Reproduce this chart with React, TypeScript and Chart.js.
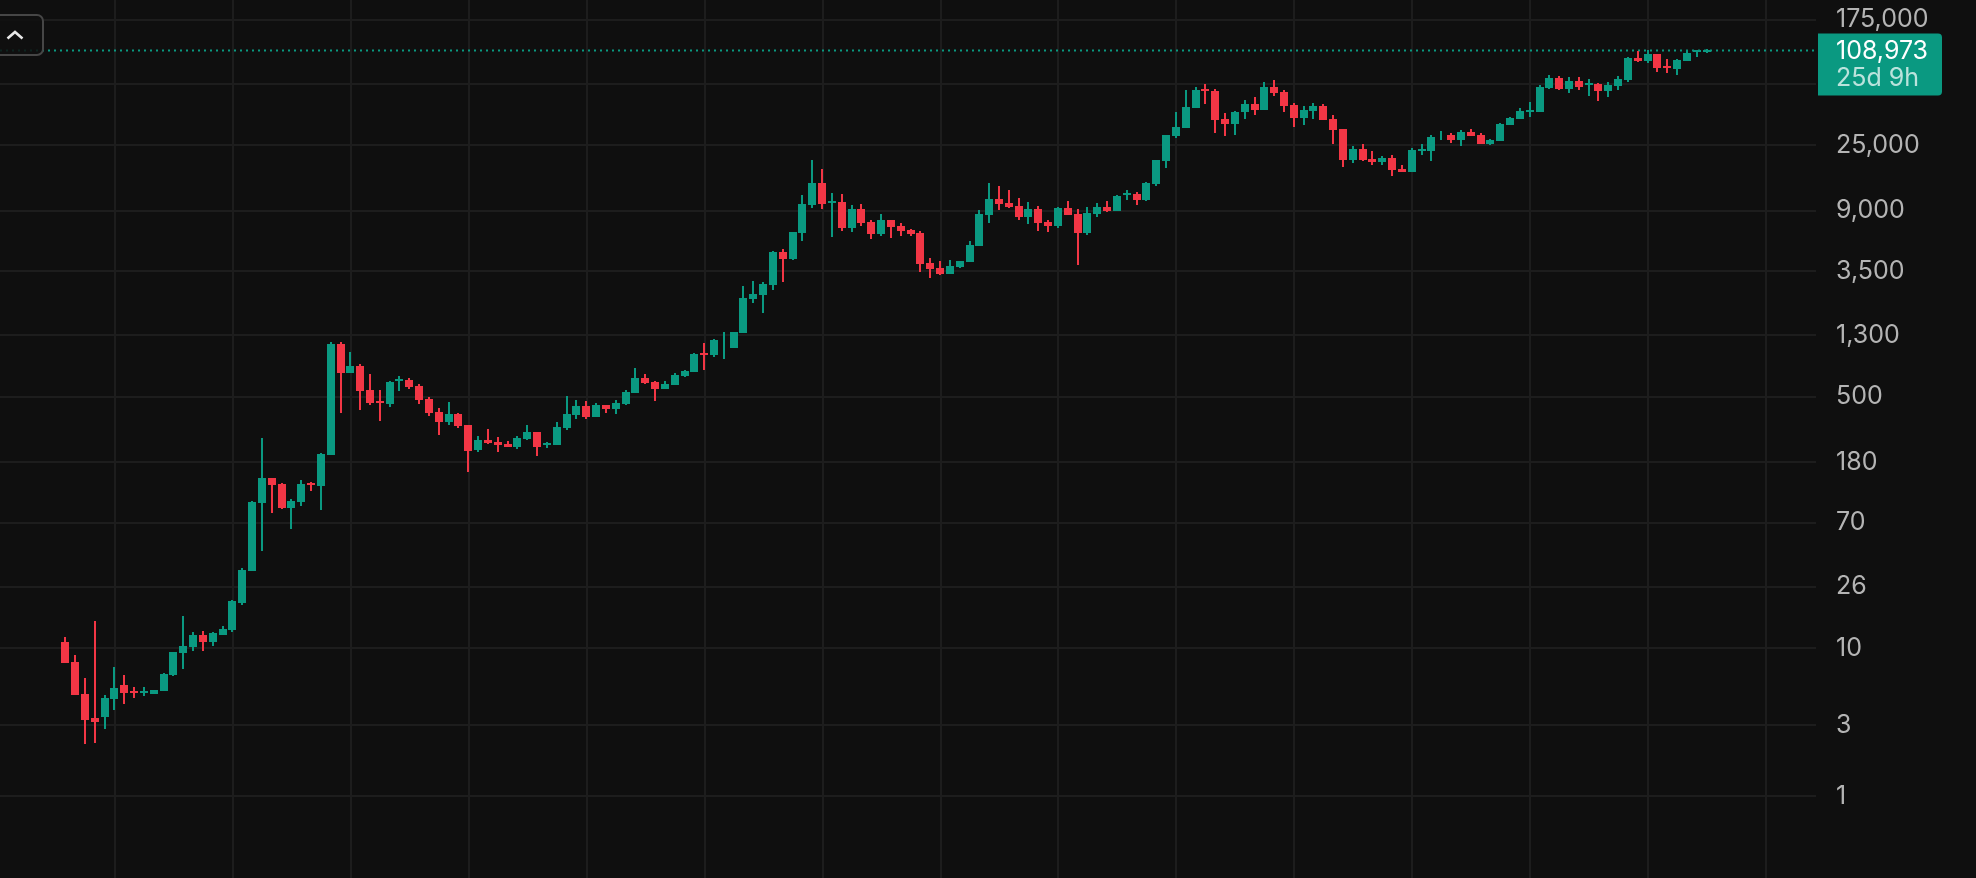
import React, { useEffect, useRef } from "react";
import { Chart, registerables } from "chart.js";

Chart.register(...registerables);

const opens = [10.98,8.06,4.89,3.37,3.42,4.53,5.63,5.13,4.97,4.89,5.13,6.58,9.27,10.16,12.24,10.98,12.24,13.23,20.14,33.1,
95.7,141,128,88.5,97.2,130,124,201,1133,722,806,554,467,445,637,647,590,482,393,337,
381,321,218,254,246.5,239,228,258,288,235,235,306,375,432,364,439,412,445,529,668,
628,563,599,689,733,987,957,1064,1064,1344,2281,2427,2835,4740,4250,6370,9870,13870,10160,10320,
6890,9270,7570,6280,7810,7110,6680,6370,3990,3690,3370,3750,4060,5210,8440,10810,10160,9720,8180,9270,
7570,7110,9420,8580,6370,8580,9570,8990,11500,11690,10640,13650,19520,28790,32600,44500,59900,58100,37500,34700,
41900,47400,43200,61800,57200,46700,38100,42500,46000,37500,32100,19830,23520,20140,19220,20450,17240,16450,22810,22810,
29700,29240,27060,30640,29240,25430,26640,34200,37500,41900,41900,60800,71100,59900,67800,63700,64700,58100,62800,68900,
97200,92700,103200,85800,81800,92700,106400,106900];

const highs = [11.87,8.99,6.28,15.22,4.82,7.45,6.58,5.46,5.46,5.21,6.78,9.42,16.45,12.83,13.03,12.83,14.08,21.1,34.7,98.7,
262,141,130,102,136.5,132,208,1169,1169,1000,831,711,554,637,689,668,608,497,419,460,
387,321,271,302,266,250,271,321,288,246.5,337,505,474,467,453,439,474,554,781,711,
637,637,722,757,987,1150,1224,1365,1365,2791,3017,2970,4820,4970,6470,11500,19830,17240,11870,11690,
9870,10000,7810,8580,7810,7450,6780,6580,4320,4120,4190,4120,5630,9130,13870,13230,12440,10980,10320,9720,
7810,9570,10480,9270,9570,10160,10480,11500,12440,12050,14080,19830,29240,41900,59000,61800,64700,59900,41200,42500,
50500,52900,66800,68900,59000,48200,46000,48200,47400,39900,32100,24650,25430,22810,21100,21430,18350,23890,25430,29240,
31120,30170,31620,32100,30170,27480,35300,38700,44500,48900,63700,74500,73300,72200,72200,70000,65800,66800,73300,98700,
108100,109800,103200,95700,95700,109800,109800,111500];

const lows = [7.93,4.82,2.245,2.28,2.835,3.81,4.19,4.6,4.74,4.89,5.13,6.47,7.22,9.57,9.57,10.32,12.24,12.83,19.52,33.1,
45.3,81.8,87.1,63.7,91.3,115,85.8,201,387,722,406,439,342,425,546,563,445,369,275,321,
306,155,211,239,211,228,221,254,198,224.5,235,297,353,353,364,387,381,439,529,608,
467,563,599,678,733,757,927,899,1064,1344,2143,1835,2623,2970,4190,5630,9420,9270,5990,6580,
6470,7110,5810,6080,5900,6080,6080,3470,3162,3310,3370,3690,4060,5210,7450,9130,9420,7810,7330,6580,
6470,6890,8440,3870,6180,8180,8850,8990,10640,9870,10480,13230,17510,27910,32600,44500,47400,30170,28790,29240,
37500,39900,43200,53700,41900,33100,34200,37500,36900,25430,17780,18920,19520,18350,18350,15460,16450,16450,21430,19520,
27060,25820,24650,28790,25430,25030,26640,34200,37500,38700,41900,59900,59000,56300,59000,53700,49700,52900,59000,66800,
91300,89900,78100,76900,74500,92700,98700,104800];

const closes = [7.93,4.82,3.26,3.16,4.6,5.37,4.97,4.97,5.13,5.21,6.68,9.42,10.32,12.24,10.98,12.63,13.44,20.77,33.7,97.2,
141,126,88.5,98.7,128,126,204.5,1133,722,806,546,453,453,628,658,581,474,387,337,381,
316,214,254,243,235,228,262,288,228,243,311,381,432,364,439,412,453,537,668,618,
563,608,700,745,972,957,1205,1064,1365,2316,2465,2879,4740,4250,6470,10000,13870,10000,10480,6890,
9270,7450,6280,7810,7000,6580,6280,3930,3640,3370,3810,4120,5290,8580,10810,10000,9570,8180,9270,7450,
7110,9420,8440,6370,8710,9570,8990,11330,11870,10640,13870,19830,29240,33100,45300,59000,58100,36900,34700,41900,
47400,43200,61800,56300,46000,38100,43200,46000,36900,31620,19830,23520,19830,19220,20450,16970,16450,23160,23520,28350,
29700,27060,30640,28790,25430,27060,34700,38100,42500,43200,61800,71100,59900,67800,61800,65800,58100,63700,70000,97200,
92700,103200,83100,83100,94200,104800,109800,108973];

const yTicks = [1, 3, 10, 26, 70, 180, 500, 1300, 3500, 9000, 25000, 65000, 175000];
const countdown = "25d 9h";

const GREEN = "#0a9981";
const RED = "#f23645";
const BG = "#0f0f0f";
const GRID = "#1d1d1d";
const FONT = "Inter";

const indices = closes.map((_, i) => i);
const xMin = -6.70;
const xMax = 178.08;
const lastClose = closes[closes.length - 1];
const colors = closes.map((c, i) => (c >= opens[i] ? GREEN : RED));
const yearStarts: number[] = [];
for (let k = 5; k < xMax; k += 12) yearStarts.push(k);

const overlay = {
  id: "overlay",
  beforeDraw(chart: any) {
    const { ctx, width, height } = chart;
    ctx.save();
    ctx.fillStyle = BG;
    ctx.fillRect(0, 0, width, height);
    ctx.restore();
  },
  beforeDatasetsDraw(chart: any) {
    // snap candles to whole device pixels so they stay crisp
    [1, 2].forEach((d) => {
      chart.getDatasetMeta(d).data.forEach((el: any) => {
        el.x = Math.floor(el.x);
        el.y = Math.round(el.y);
        el.base = Math.round(el.base);
      });
    });
  },
  afterDraw(chart: any) {
    const { ctx } = chart;
    const y = chart.scales.y.getPixelForValue(lastClose);
    ctx.save();
    // price tag
    ctx.fillStyle = GREEN;
    ctx.beginPath();
    ctx.roundRect(1818, y - 17, 124, 62, [0, 4, 4, 0]);
    ctx.fill();
    ctx.textAlign = "left";
    ctx.textBaseline = "middle";
    ctx.font = `25px ${FONT}`;
    ctx.fillStyle = "#ffffff";
    ctx.fillText(lastClose.toLocaleString("en-US"), 1836, y + 1);
    ctx.fillStyle = "rgba(255,255,255,0.72)";
    ctx.fillText(countdown, 1836, y + 28);
    // collapse button
    ctx.beginPath();
    ctx.roundRect(-10, 15, 53, 40, 6);
    ctx.fillStyle = "rgba(15,15,15,0.85)";
    ctx.fill();
    ctx.lineWidth = 2;
    ctx.strokeStyle = "#464646";
    ctx.stroke();
    ctx.beginPath();
    ctx.moveTo(7.5, 38.5);
    ctx.lineTo(15, 32);
    ctx.lineTo(22.5, 38.5);
    ctx.lineWidth = 2.6;
    ctx.strokeStyle = "#e8e8e8";
    ctx.stroke();
    ctx.restore();
  },
};

export default function App() {
  const ref = useRef<HTMLCanvasElement>(null);
  useEffect(() => {
    document.body.style.margin = "0";
    document.body.style.background = BG;
    const chart = new Chart(ref.current!, {
      type: "bar",
      data: {
        datasets: [
          {
            type: "line",
            label: "Last price",
            data: [
              { x: xMin, y: lastClose },
              { x: xMax, y: lastClose },
            ],
            borderColor: GREEN,
            borderWidth: 2,
            borderDash: [2, 4],
            pointRadius: 0,
            order: 3,
          },
          {
            label: "Wick",
            data: indices.map((i) => ({ x: i, y: [lows[i], highs[i]] })),
            backgroundColor: colors,
            barThickness: 2,
            borderWidth: 0,
            inflateAmount: 0,
            grouped: false,
            order: 2,
          },
          {
            label: "Body",
            data: indices.map((i) => ({ x: i, y: [Math.min(opens[i], closes[i]), Math.max(opens[i], closes[i])] })),
            backgroundColor: colors,
            barThickness: 8,
            borderWidth: 0,
            inflateAmount: 0,
            grouped: false,
            order: 1,
          },
        ] as any,
      },
      plugins: [overlay],
      options: {
        animation: false,
        responsive: false,
        maintainAspectRatio: false,
        layout: { padding: 0 },
        plugins: { legend: { display: false }, tooltip: { enabled: false }, title: { display: false } },
        scales: {
          x: {
            type: "linear",
            min: xMin,
            max: xMax,
            offset: false,
            afterBuildTicks: (s: any) => {
              s.ticks = yearStarts.map((value) => ({ value }));
            },
            afterFit: (s: any) => {
              s.height = 0;
              s.paddingLeft = 0;
              s.paddingRight = 0;
            },
            ticks: { display: false },
            border: { display: false },
            grid: { color: GRID, lineWidth: 2, drawTicks: false, offset: false },
          },
          y: {
            type: "logarithmic",
            position: "right",
            min: Math.pow(10, -0.554),
            max: Math.pow(10, 5.378),
            afterBuildTicks: (s: any) => {
              s.ticks = yTicks.map((value) => ({ value }));
            },
            afterFit: (s: any) => {
              s.width = 160;
              s.paddingTop = 0;
              s.paddingBottom = 0;
            },
            ticks: {
              autoSkip: false,
              padding: 20,
              color: "#b4b4b4",
              font: { family: FONT, size: 25 },
              callback: (v: any) => Number(v).toLocaleString("en-US"),
            },
            border: { display: false },
            grid: { color: GRID, lineWidth: 2, drawTicks: false },
          },
        },
      } as any,
    });
    return () => chart.destroy();
  }, []);
  return <canvas ref={ref} width={1976} height={878} style={{ display: "block" }} />;
}
